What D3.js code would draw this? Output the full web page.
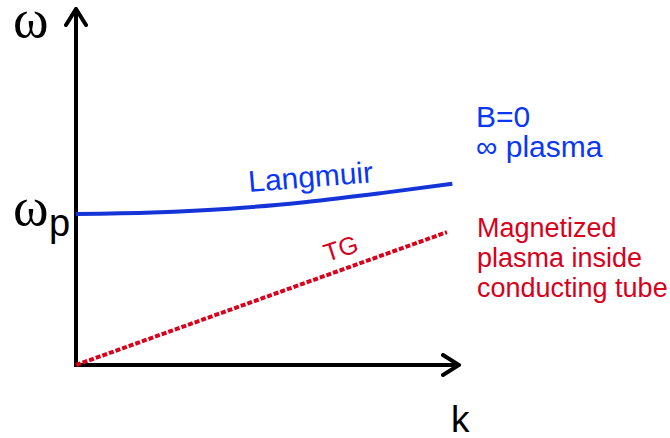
<!DOCTYPE html>
<html>
<head>
<meta charset="utf-8">
<script src="https://cdn.jsdelivr.net/npm/d3@7"></script>
<style>
  body { margin: 0; background: #fff; }
  text { font-family: "Liberation Sans", Arial, sans-serif; }
</style>
</head>
<body>
<div id="chart"></div>
<script>
// k as fraction of the axis length, omega in units of omega_p
var langmuirK = [0, 0.2, 0.4, 0.6, 0.8, 0.98];
var langmuirW = [1.0, 1.01, 1.035, 1.08, 1.14, 1.2];
var tgK = [0, 0.966];
var tgW = [0, 0.88];

var blueLabels = ["B=0", "\u221e plasma"];
var redLabels = ["Magnetized", "plasma inside", "conducting tube"];

var svg = d3.select("#chart")
            .append("svg")
            .attr("width", 670)
            .attr("height", 438);

var x = d3.scaleLinear().domain([0, 1]).range([76, 460]),
    y = d3.scaleLinear().domain([0, 1]).range([365, 214]);

var blue = "#1434d8", blueText = "#0a37f5", red = "#d8001c";

// arrows
svg.append("defs").append("marker")
   .attr("id", "arrow")
   .attr("viewBox", "0 0 20 24")
   .attr("refX", 18)
   .attr("refY", 12)
   .attr("markerWidth", 20)
   .attr("markerHeight", 24)
   .attr("markerUnits", "userSpaceOnUse")
   .attr("orient", "auto")
   .append("path")
   .attr("d", "M2,2 L18,12 L2,22")
   .style("fill", "none")
   .style("stroke", "black")
   .style("stroke-width", 4)
   .style("stroke-linecap", "round")
   .style("stroke-linejoin", "miter");

// y axis (omega)
svg.append("line")
   .attr("x1", x(0)).attr("y1", y(0) + 2)
   .attr("x2", x(0)).attr("y2", 9)
   .style("stroke", "black")
   .style("stroke-width", 4)
   .attr("marker-end", "url(#arrow)");

// x axis (k)
svg.append("line")
   .attr("x1", x(0) - 2).attr("y1", y(0))
   .attr("x2", 459).attr("y2", y(0))
   .style("stroke", "black")
   .style("stroke-width", 4)
   .attr("marker-end", "url(#arrow)");

var line = d3.line()
  .x(function(d) { return x(d[0]); })
  .y(function(d) { return y(d[1]); });

// Langmuir branch
svg.append("path")
   .datum(d3.zip(langmuirK, langmuirW))
   .attr("d", line.curve(d3.curveMonotoneX))
   .style("fill", "none")
   .style("stroke", blue)
   .style("stroke-width", 4);

// TG branch
svg.append("path")
   .datum(d3.zip(tgK, tgW))
   .attr("d", line.curve(d3.curveLinear))
   .style("fill", "none")
   .style("stroke", red)
   .style("stroke-width", 4)
   .style("stroke-dasharray", "5,2");

// axis labels
svg.append("text")
   .attr("x", 13).attr("y", 37)
   .style("font-family", "Liberation Serif, serif")
   .style("font-size", "54px")
   .text("\u03c9");

svg.append("text")
   .attr("x", 13).attr("y", 225)
   .style("font-family", "Liberation Serif, serif")
   .style("font-size", "54px")
   .text("\u03c9");

svg.append("text")
   .attr("x", 49).attr("y", 236)
   .style("font-size", "38px")
   .text("p");

svg.append("text")
   .attr("x", 451).attr("y", 432)
   .style("font-size", "37px")
   .text("k");

// curve labels
svg.append("text")
   .attr("transform", "translate(249,192) rotate(-4.5)")
   .style("font-size", "30px")
   .style("fill", blueText)
   .text("Langmuir");

svg.append("text")
   .attr("transform", "translate(327,262) rotate(-18)")
   .style("font-size", "25px")
   .style("fill", red)
   .text("TG");

svg.selectAll(".blueLab")
   .data(blueLabels)
   .enter()
   .append("text")
   .attr("class", "blueLab")
   .attr("x", 476)
   .attr("y", function(d, i) { return 127 + i * 30; })
   .style("font-size", "30px")
   .style("fill", blueText)
   .text(function(d) { return d; });

svg.selectAll(".redLab")
   .data(redLabels)
   .enter()
   .append("text")
   .attr("class", "redLab")
   .attr("x", 477)
   .attr("y", function(d, i) { return 237 + i * 30; })
   .style("font-size", "27px")
   .style("fill", red)
   .text(function(d) { return d; });
</script>
</body>
</html>
